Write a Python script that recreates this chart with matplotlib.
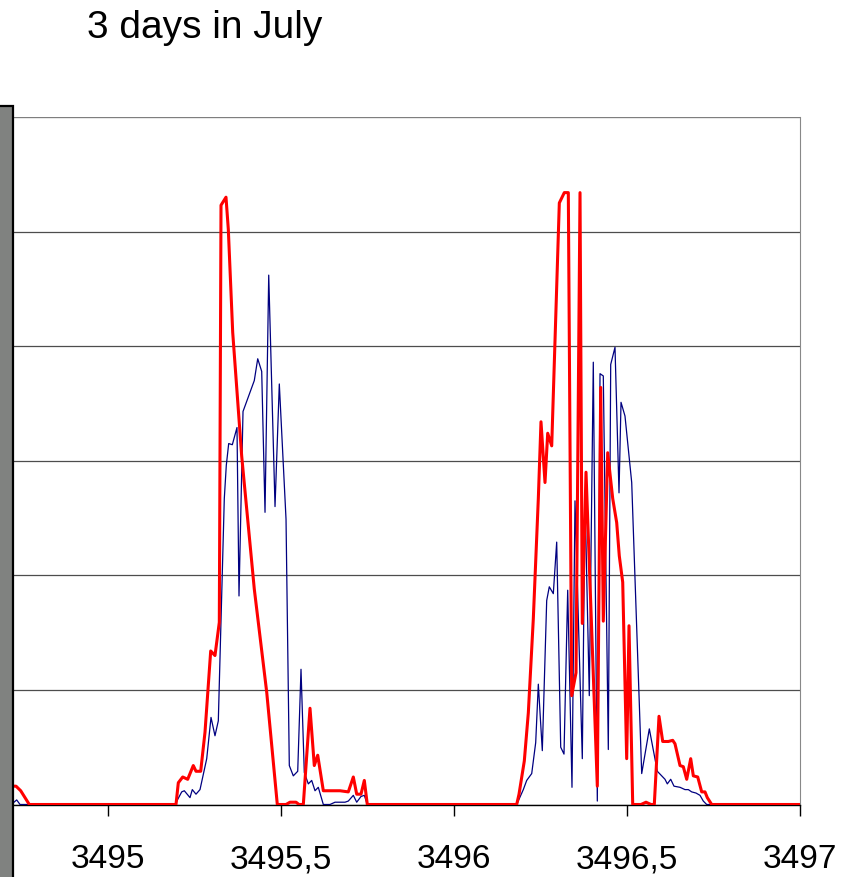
import matplotlib
matplotlib.use("Agg")
import matplotlib.pyplot as plt
from matplotlib.patches import Rectangle

# tiempo (dias) y valores
red_x = [3494.7283, 3494.7341, 3494.7477, 3494.7725, 3495.1965, 3495.2032, 3495.2159,
         3495.2303, 3495.2465, 3495.2543, 3495.2679, 3495.2803, 3495.2968, 3495.3092,
         3495.3217, 3495.3266, 3495.3410, 3495.3477, 3495.3604, 3495.3864, 3495.4228,
         3495.4587, 3495.4893, 3495.5145, 3495.5260, 3495.5434, 3495.5520, 3495.5645,
         3495.5838, 3495.5962, 3495.6061, 3495.6223, 3495.6416, 3495.6705, 3495.6945,
         3495.7090, 3495.7188, 3495.7312, 3495.7408, 3495.7494,
         3496.1812, 3496.1879, 3496.2032, 3496.2148, 3496.2292, 3496.2437, 3496.2514,
         3496.2630, 3496.2708, 3496.2824, 3496.3044, 3496.3188, 3496.3304, 3496.3402,
         3496.3526, 3496.3642, 3496.3708, 3496.3815, 3496.4142, 3496.4240, 3496.4315,
         3496.4442, 3496.4587, 3496.4702, 3496.4777, 3496.4876, 3496.4991, 3496.5058,
         3496.5165, 3496.5405, 3496.5549, 3496.5694, 3496.5789, 3496.5925, 3496.6032,
         3496.6194, 3496.6321, 3496.6387, 3496.6532, 3496.6627, 3496.6726, 3496.6841,
         3496.6917, 3496.7044, 3496.7159, 3496.7254, 3496.7321, 3496.7448, 3497.0]
red_y = [16, 16, 12, 0, 0, 19, 24,
         22, 34, 29, 29, 63, 134, 130,
         159, 523, 530, 502, 412, 304, 188,
         98, 0, 0, 2, 2, 0, 0,
         84, 34, 43, 12, 12, 12, 11,
         24, 9, 9, 21, 0,
         0, 9, 38, 80, 162, 267, 334,
         281, 324, 313, 525, 534, 534, 95,
         115, 534, 158, 290, 16, 364, 160,
         307, 267, 246, 217, 194, 40, 156,
         0, 0, 2, 0, 0, 77, 55,
         55, 56, 53, 34, 33, 22, 40,
         25, 24, 11, 11, 6, 0, 0]

blue_x = [3494.7283, 3494.7361, 3494.7457, 3495.1936, 3495.2130, 3495.2205, 3495.2370,
          3495.2436, 3495.2543, 3495.2659, 3495.2853, 3495.2977, 3495.3092, 3495.3188,
          3495.3361, 3495.3419, 3495.3488, 3495.3593, 3495.3728, 3495.3786, 3495.3902,
          3495.4228, 3495.4327, 3495.4442, 3495.4538, 3495.4645, 3495.4827, 3495.4951,
          3495.5145, 3495.5240, 3495.5355, 3495.5483, 3495.5578, 3495.5673, 3495.5789,
          3495.5887, 3495.5983, 3495.6078, 3495.6223, 3495.6416, 3495.6561, 3495.6850,
          3495.6945, 3495.7090, 3495.7188, 3495.7312, 3495.7408, 3495.7494,
          3496.1812, 3496.2003, 3496.2101, 3496.2246, 3496.2361, 3496.2437, 3496.2552,
          3496.2679, 3496.2754, 3496.2870, 3496.2968, 3496.3084, 3496.3179, 3496.3286,
          3496.3410, 3496.3497, 3496.3708, 3496.3786, 3496.3910, 3496.4026, 3496.4142,
          3496.4220, 3496.4315, 3496.4460, 3496.4529, 3496.4653, 3496.4769, 3496.4827,
          3496.4942, 3496.5136, 3496.5425, 3496.5645, 3496.5876, 3496.6098, 3496.6165,
          3496.6263, 3496.6358, 3496.6532, 3496.6676, 3496.6772, 3496.6870, 3496.6994,
          3496.7110, 3496.7205, 3496.7303, 3497.0]
blue_y = [2, 4, 0, 0, 11, 12, 6,
          13, 9, 13, 40, 76, 60, 73,
          267, 296, 315, 314, 329, 182, 343,
          370, 389, 378, 255, 462, 260, 367,
          249, 34, 25, 29, 118, 28, 18,
          21, 12, 15, 0, 0, 2, 2,
          3, 8, 2, 7, 8, 0,
          0, 13, 21, 27, 54, 105, 47,
          178, 190, 184, 229, 50, 44, 187,
          15, 265, 40, 269, 95, 386, 3,
          376, 374, 48, 384, 399, 272, 351,
          339, 281, 27, 66, 29, 22, 18,
          22, 16, 15, 13, 13, 11, 10,
          8, 3, 0, 0]

x_ticks = [3495, 3495.5, 3496, 3496.5, 3497]
x_labels = ["3495", "3495,5", "3496", "3496,5", "3497"]

plt.rcParams['font.family'] = ['Liberation Sans', 'DejaVu Sans']

fig = plt.figure(figsize=(8.65, 8.78), dpi=100)
ax = fig.add_axes([14/865, 1 - 805.5/878, 786/865, (805.5 - 118)/878])

ax.plot(blue_x, blue_y, color="#000080", lw=0.9, zorder=3)
ax.plot(red_x, red_y, color="#ff0000", lw=2.2, zorder=4)

ax.set_xlim(3494.7283, 3497)
ax.set_ylim(0, 600)
ax.set_yticks(range(0, 601, 100))
ax.yaxis.grid(True, color="#4d4d4d", lw=0.9)
ax.set_axisbelow(True)
ax.tick_params(axis="y", left=False, labelleft=False)
ax.set_xticks(x_ticks)
ax.set_xticklabels(x_labels, fontsize=24)
ax.tick_params(axis="x", direction="out", length=8, width=1, pad=20, color="black")

for s in ["top", "left"]:
    ax.spines[s].set_visible(False)
ax.spines["right"].set_color("#888888")
ax.spines["bottom"].set_color("black")
ax.spines["bottom"].set_linewidth(1)
# linea superior mas clara
ax.axhline(600, color="#888888", lw=1.2, zorder=2)

# caja gris recortada a la izquierda
fig.patches.append(Rectangle((-0.02, -0.02), 0.02 + 13/865, 0.02 + 1 - 107/878,
                             transform=fig.transFigure, facecolor="#808280",
                             edgecolor="black", lw=1.6))

fig.text(87/865, 1 - 38/878, "3 days in July", fontsize=28, ha="left", va="baseline")

plt.savefig("out.png", dpi=100)
